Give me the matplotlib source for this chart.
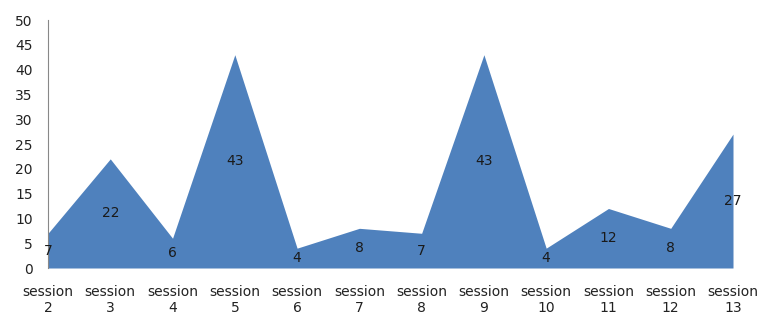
import matplotlib
matplotlib.use("Agg")
import matplotlib.pyplot as plt
import numpy as np

categories = ["session\n2", "session\n3", "session\n4", "session\n5", "session\n6", "session\n7",
              "session\n8", "session\n9", "session\n10", "session\n11", "session\n12", "session\n13"]
values = [7, 22, 6, 43, 4, 8, 7, 43, 4, 12, 8, 27]
yticks = [0, 5, 10, 15, 20, 25, 30, 35, 40, 45, 50]

plt.rcParams['font.family'] = ['DejaVu Sans']
fig = plt.figure(figsize=(7.58, 3.15), dpi=100)
ax = fig.add_axes([48/758, 1-268/315, (733-48)/758, (268-20)/315])

x = np.arange(len(values))
ax.fill_between(x, 0, values, color="#4F81BD", linewidth=0)
for xi, v in zip(x, values):
    ax.text(xi, v/2, str(v), ha="center", va="center", fontsize=10, color="#1a1a1a")

ax.set_xlim(0, len(values)-1)
ax.set_ylim(0, 50)
ax.set_yticks(yticks)
ax.set_xticks(x)
ax.set_xticklabels(categories, fontsize=10, color="#222222", linespacing=1.2)
ax.tick_params(axis="y", length=0, pad=11, labelsize=10, labelcolor="#222222")
ax.tick_params(axis="x", length=0, pad=12)
for s in ["top", "right", "bottom"]:
    ax.spines[s].set_visible(False)
ax.spines["left"].set_color("#888888")
ax.spines["left"].set_linewidth(0.8)

fig.savefig("out.png", dpi=100)
